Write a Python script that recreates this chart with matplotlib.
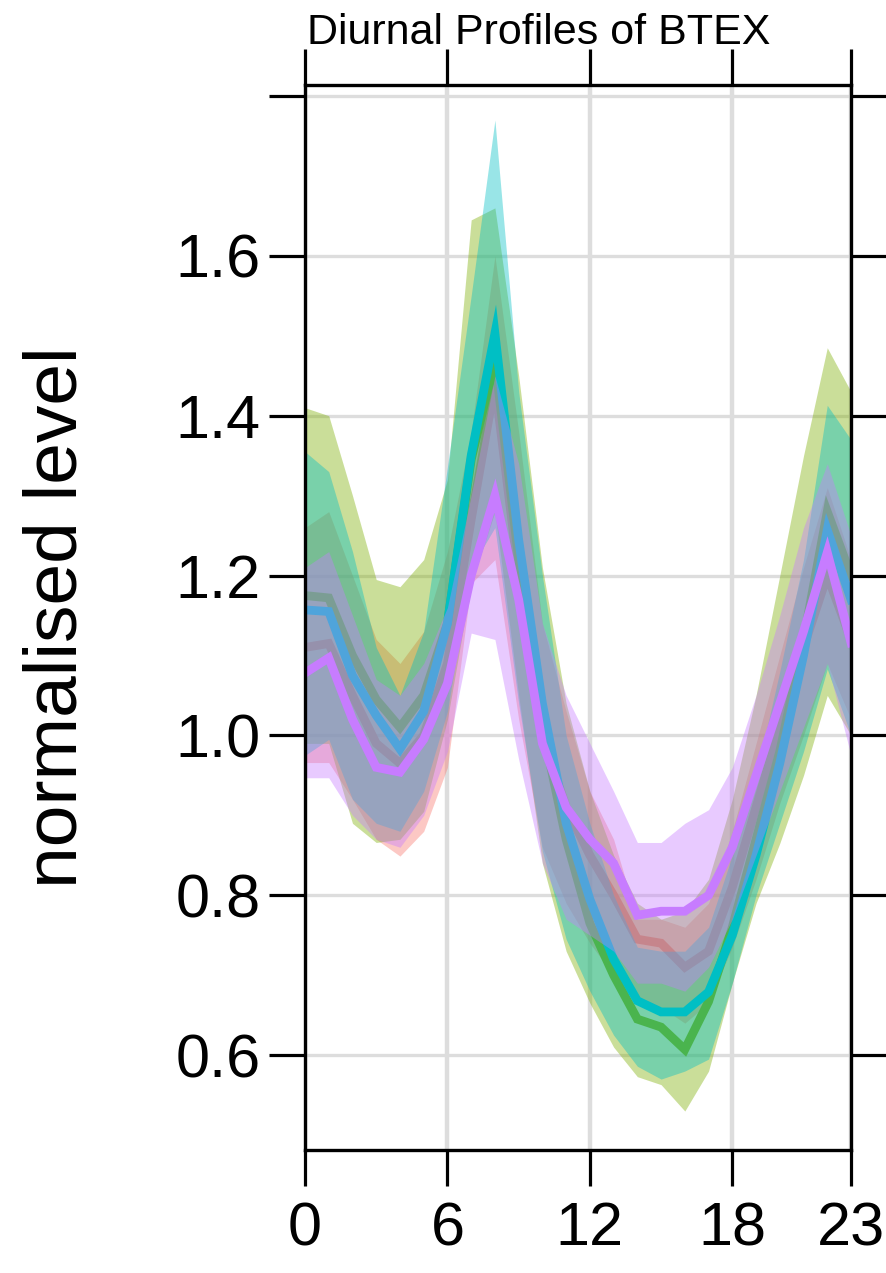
"""Diurnal profiles of BTEX: normalised mean level with confidence bands."""

import matplotlib
matplotlib.use("Agg")
import matplotlib.pyplot as plt
import numpy as np

# ==============================================================================
# DATA
# ==============================================================================

HOURS = list(range(24))

SERIES_COLORS = ["#F8766D", "#7CAE00", "#00BFC4", "#C77CFF"]

pink_mean = [1.11, 1.115, 1.05, 0.99, 0.965, 1.0, 1.09, 1.27, 1.44, 1.2, 1.0, 0.91,
             0.85, 0.80, 0.745, 0.74, 0.71, 0.73, 0.81, 0.91, 1.01, 1.11, 1.20, 1.12]
pink_lo = [0.966, 0.966, 0.92, 0.87, 0.849, 0.88, 0.96, 1.19, 1.22, 1.02, 0.86, 0.79,
           0.74, 0.70, 0.665, 0.66, 0.64, 0.665, 0.735, 0.82, 0.915, 1.0, 1.09, 1.02]
pink_hi = [1.26, 1.28, 1.2, 1.12, 1.09, 1.13, 1.23, 1.38, 1.60, 1.38, 1.14, 1.03,
           0.93, 0.87, 0.77, 0.77, 0.76, 0.79, 0.88, 0.99, 1.10, 1.21, 1.31, 1.22]

olive_mean = [1.175, 1.172, 1.10, 1.045, 1.01, 1.05, 1.14, 1.345, 1.47, 1.22, 1.01, 0.87,
              0.765, 0.70, 0.645, 0.635, 0.607, 0.667, 0.76, 0.87, 0.98, 1.12, 1.28, 1.20]
olive_lo = [0.99, 0.99, 0.89, 0.866, 0.87, 0.905, 1.02, 1.19, 1.28, 1.05, 0.84, 0.73,
            0.665, 0.61, 0.573, 0.563, 0.53, 0.58, 0.69, 0.79, 0.865, 0.95, 1.05, 1.0]
olive_hi = [1.41, 1.40, 1.30, 1.195, 1.186, 1.22, 1.32, 1.645, 1.66, 1.45, 1.21, 1.04,
            0.93, 0.85, 0.79, 0.77, 0.78, 0.82, 0.92, 1.05, 1.2, 1.35, 1.485, 1.43]

cyan_mean = [1.157, 1.155, 1.075, 1.025, 0.983, 1.03, 1.14, 1.35, 1.503, 1.245, 1.04, 0.89,
             0.795, 0.72, 0.668, 0.654, 0.654, 0.679, 0.75, 0.85, 0.965, 1.10, 1.257, 1.17]
cyan_lo = [0.975, 0.995, 0.92, 0.89, 0.88, 0.93, 1.03, 1.21, 1.26, 1.04, 0.855, 0.745,
           0.68, 0.625, 0.586, 0.57, 0.58, 0.595, 0.69, 0.80, 0.89, 0.98, 1.083, 1.0]
cyan_hi = [1.355, 1.33, 1.23, 1.11, 1.05, 1.13, 1.336, 1.55, 1.77, 1.43, 1.2, 1.0,
           0.89, 0.80, 0.735, 0.73, 0.73, 0.76, 0.85, 0.95, 1.08, 1.22, 1.413, 1.37]

purple_mean = [1.078, 1.097, 1.02, 0.96, 0.954, 0.995, 1.065, 1.2, 1.30, 1.17, 0.99, 0.91,
               0.87, 0.84, 0.775, 0.78, 0.78, 0.80, 0.86, 0.95, 1.04, 1.13, 1.229, 1.116]
purple_lo = [0.947, 0.947, 0.90, 0.87, 0.86, 0.90, 0.98, 1.128, 1.12, 0.97, 0.84, 0.77,
             0.75, 0.73, 0.69, 0.69, 0.68, 0.71, 0.77, 0.85, 0.93, 1.01, 1.09, 0.975]
purple_hi = [1.21, 1.23, 1.15, 1.07, 1.05, 1.09, 1.16, 1.30, 1.45, 1.34, 1.14, 1.05,
             0.99, 0.93, 0.866, 0.866, 0.89, 0.907, 0.96, 1.05, 1.15, 1.26, 1.34, 1.25]

X_TICKS = [0, 6, 12, 18, 23]
Y_TICKS = [0.6, 0.8, 1.0, 1.2, 1.4, 1.6, 1.8]
Y_TICK_LABELS = ["0.6", "0.8", "1.0", "1.2", "1.4", "1.6", ""]

TITLE = "Diurnal Profiles of BTEX"
Y_LABEL = "normalised level"

# ==============================================================================
# STYLE
# ==============================================================================

W, H, DPI = 887, 1273, 100
GRID_COLOR = "#DDDDDD"


def plot_figure() -> plt.Figure:
    plt.rcParams["font.family"] = ["Liberation Sans", "DejaVu Sans"]

    fig = plt.figure(figsize=(W / DPI, H / DPI), dpi=DPI)
    ax = fig.add_axes([305 / W, 1 - 1150 / H, 546 / W, 1065 / H])

    series = [
        (pink_mean, pink_lo, pink_hi),
        (olive_mean, olive_lo, olive_hi),
        (cyan_mean, cyan_lo, cyan_hi),
        (purple_mean, purple_lo, purple_hi),
    ]
    hours = np.array(HOURS)
    # each series draws its band then its line, so later bands tint earlier lines
    for k, ((mean, lo, hi), color) in enumerate(zip(series, SERIES_COLORS)):
        ax.fill_between(hours, lo, hi, color=color, alpha=0.4, linewidth=0,
                        zorder=2 + 2 * k)
        ax.plot(hours, mean, color=color, linewidth=6.3, solid_joinstyle="miter",
                zorder=3 + 2 * k)

    ax.set_xlim(0, 23)
    ax.set_ylim(0.48125, 1.81375)

    ax.set_xticks(X_TICKS)
    ax.set_yticks(Y_TICKS)
    ax.set_yticklabels(Y_TICK_LABELS)
    ax.tick_params(axis="both", direction="out", length=26, width=2.3,
                   labelsize=44, color="black")
    ax.tick_params(axis="x", top=True, labeltop=False, pad=11)
    ax.tick_params(axis="y", right=True, labelright=False, pad=6)

    ax.set_axisbelow(True)
    ax.grid(True, axis="x", color=GRID_COLOR, linewidth=3.2)
    ax.grid(True, axis="y", color=GRID_COLOR, linewidth=2.4)

    for spine in ax.spines.values():
        spine.set_linewidth(2.4)
        spine.set_zorder(20)

    fig.text(57 / W, 1 - 617 / H, Y_LABEL, rotation=90, ha="center", va="center",
             fontsize=54)
    fig.text(307 / W, 1 - 44 / H, TITLE, ha="left", va="baseline", fontsize=31)
    return fig


def main() -> None:
    fig = plot_figure()
    fig.savefig("out.png", dpi=DPI)
    plt.close(fig)


if __name__ == "__main__":
    main()
